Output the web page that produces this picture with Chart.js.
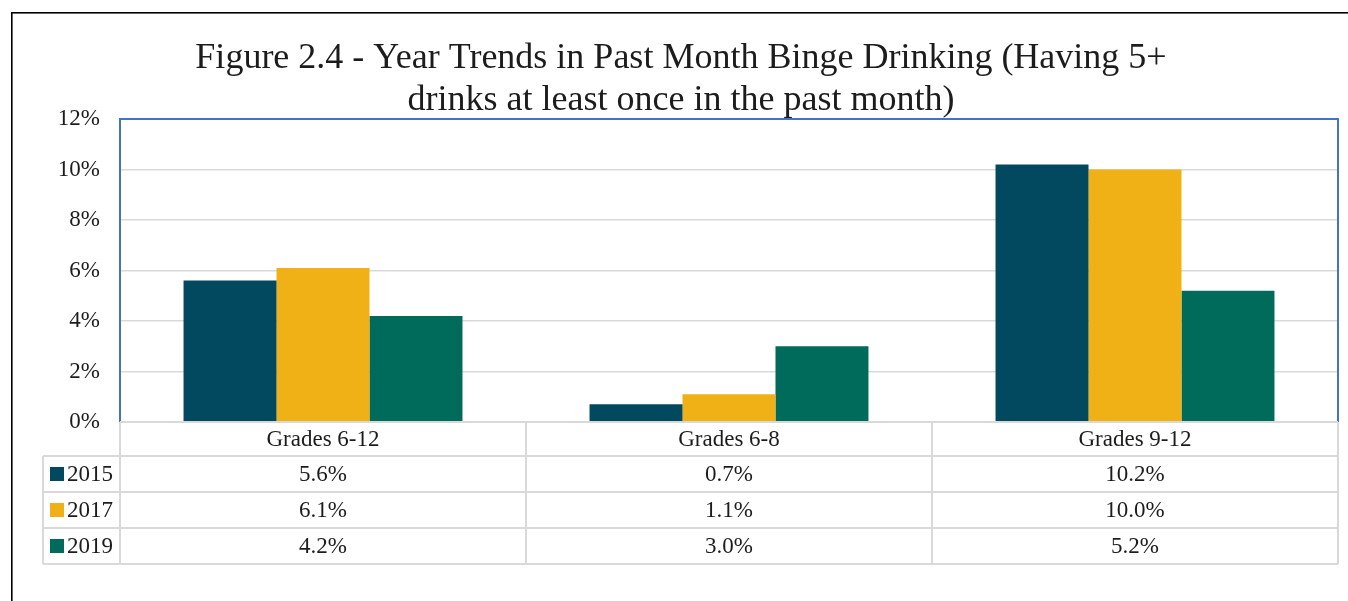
<!DOCTYPE html>
<html>
<head>
<meta charset="utf-8">
<title>Figure 2.4 - Binge Drinking Trends</title>
<script src="https://cdn.jsdelivr.net/npm/chart.js@4/dist/chart.umd.min.js"></script>
<style>
  html, body { margin: 0; padding: 0; background: #ffffff; }
  #wrap { width: 1348px; height: 601px; }
</style>
</head>
<body>
<div id="wrap"><canvas id="chart" width="1348" height="601"></canvas></div>
<script>
// Grade groups along the x axis
const categories = ['Grades 6-12', 'Grades 6-8', 'Grades 9-12'];
// Survey years and their percentages per grade group
const years = ['2015', '2017', '2019'];
const values2015 = [5.6, 0.7, 10.2];
const values2017 = [6.1, 1.1, 10.0];
const values2019 = [4.2, 3.0, 5.2];
const yearColors = ['#02485f', '#efb116', '#006b5a'];
// Y axis range in percent
const yMin = 0;
const yMax = 12;
const yStep = 2;

const titleLines = [
  'Figure 2.4 - Year Trends in Past Month Binge Drinking (Having 5+',
  'drinks at least once in the past month)'
];

const FONT = "'Liberation Serif', 'DejaVu Serif', serif";
const TEXT = '#1c1c1c';
const GRID = '#d9d9d9';
const PLOT_BORDER = '#4472c4';
const LABEL_SIZE = 23;

const seriesValues = [values2015, values2017, values2019];

// Outer frame around the figure
const framePlugin = {
  id: 'frame',
  beforeDraw(chart) {
    const ctx = chart.ctx;
    ctx.save();
    ctx.fillStyle = '#ffffff';
    ctx.fillRect(0, 0, chart.width, chart.height);
    ctx.fillStyle = '#000000';
    ctx.fillRect(11, 12, chart.width - 11, 1.6);
    ctx.fillRect(11, 12, 1.6, chart.height - 12);
    ctx.restore();
  }
};

// Nudge the title box: centred on the frame and a little lower
const titlePlacementPlugin = {
  id: 'titlePlacement',
  afterLayout(chart) {
    if (chart.titleBlock) {
      chart.titleBlock.left += 24;
      chart.titleBlock.top += 3;
    }
  }
};

// Data table under the plot: category headers, legend keys and values
const dataTablePlugin = {
  id: 'dataTable',
  afterDraw(chart) {
    const ctx = chart.ctx;
    const area = chart.chartArea;
    const xs = chart.scales.x;
    const colW = (area.right - area.left) / categories.length;
    const headerH = 34;
    const rowH = 36;
    const top = area.bottom;
    const rowsTop = top + headerH;
    const bottom = rowsTop + rowH * years.length;
    const keyLeft = 43;

    ctx.save();
    // Plot border on top, left and right
    ctx.strokeStyle = PLOT_BORDER;
    ctx.lineWidth = 2;
    ctx.beginPath();
    ctx.moveTo(area.left, area.bottom);
    ctx.lineTo(area.left, area.top);
    ctx.lineTo(area.right, area.top);
    ctx.lineTo(area.right, area.bottom);
    ctx.stroke();

    // Table grid
    ctx.strokeStyle = GRID;
    ctx.lineWidth = 2;
    ctx.beginPath();
    ctx.moveTo(area.left, top);
    ctx.lineTo(area.right, top);
    for (let r = 0; r <= years.length; r++) {
      const y = rowsTop + r * rowH;
      ctx.moveTo(keyLeft, y);
      ctx.lineTo(area.right, y);
    }
    ctx.moveTo(keyLeft, rowsTop);
    ctx.lineTo(keyLeft, bottom);
    for (let c = 0; c <= categories.length; c++) {
      const x = area.left + c * colW;
      ctx.moveTo(x, top);
      ctx.lineTo(x, bottom);
    }
    ctx.stroke();

    // Header and values
    ctx.fillStyle = TEXT;
    ctx.font = LABEL_SIZE + 'px ' + FONT;
    ctx.textAlign = 'center';
    ctx.textBaseline = 'middle';
    categories.forEach((cat, i) => {
      const cx = xs.getPixelForValue(i);
      ctx.fillText(cat, cx, top + headerH / 2 + 1);
      seriesValues.forEach((vals, s) => {
        ctx.fillText(vals[i].toFixed(1) + '%', cx, rowsTop + s * rowH + rowH / 2 + 1);
      });
    });

    // Legend keys
    ctx.textAlign = 'left';
    years.forEach((yr, s) => {
      const cy = rowsTop + s * rowH + rowH / 2;
      ctx.fillStyle = yearColors[s];
      ctx.fillRect(50, cy - 7, 14, 14);
      ctx.fillStyle = TEXT;
      ctx.fillText(yr, 67, cy + 1);
    });
    ctx.restore();
  }
};

new Chart(document.getElementById('chart'), {
  type: 'bar',
  data: {
    labels: categories,
    datasets: years.map((yr, s) => ({
      label: yr,
      data: seriesValues[s],
      backgroundColor: yearColors[s],
      borderWidth: 0,
      barPercentage: 1.0,
      categoryPercentage: 0.687
    }))
  },
  options: {
    responsive: false,
    animation: false,
    devicePixelRatio: 1,
    layout: { padding: { top: 0, left: 0, right: 10, bottom: 179 } },
    plugins: {
      legend: { display: false },
      tooltip: { enabled: false },
      title: {
        display: true,
        text: titleLines,
        color: TEXT,
        font: { family: FONT, size: 36, weight: 'normal', lineHeight: 1.1667 },
        padding: { top: 35, bottom: 0 }
      }
    },
    scales: {
      x: {
        display: false,
        offset: true
      },
      y: {
        min: yMin,
        max: yMax,
        ticks: {
          stepSize: yStep,
          padding: 20,
          color: TEXT,
          font: { family: FONT, size: LABEL_SIZE },
          callback: v => v + '%'
        },
        grid: { color: GRID, lineWidth: 1.5, drawTicks: false },
        border: { display: false },
        afterFit: s => { s.width = 120; }
      }
    }
  },
  plugins: [framePlugin, titlePlacementPlugin, dataTablePlugin]
});
</script>
</body>
</html>
